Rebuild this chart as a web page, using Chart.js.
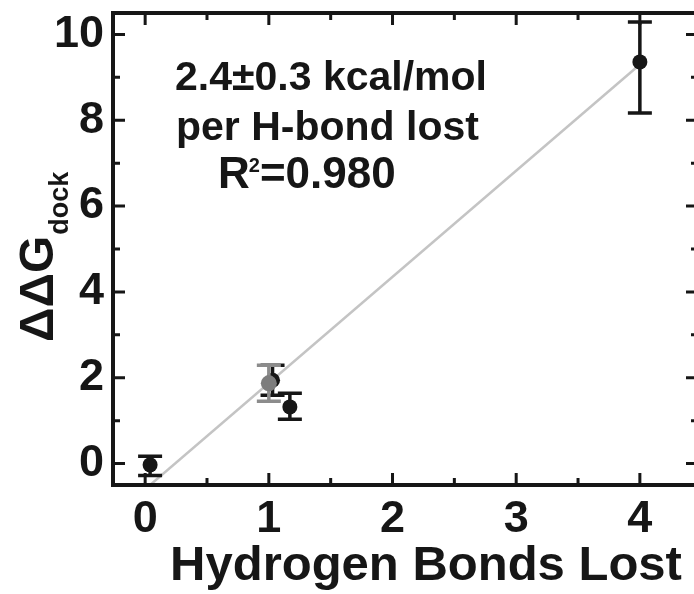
<!DOCTYPE html>
<html>
<head>
<meta charset="utf-8">
<script src="https://cdn.jsdelivr.net/npm/chart.js@4.4.1/dist/chart.umd.min.js"></script>
<style>
  html, body { margin: 0; padding: 0; background: #fff; overflow: hidden; }
  /* a few px wider than the window: the right frame edge sits just off-screen */
  #wrap { width: 698px; height: 594px; }
</style>
</head>
<body>
<div id="wrap"><canvas id="myChart"></canvas></div>
<script>
// black points (H-bonds lost, ddG dock) with asymmetric error bars
let blackX = [0.04, 1.03, 1.17, 4.0];
let blackY = [-0.03, 1.94, 1.32, 9.36];
let blackErrUp = [0.2, 0.35, 0.32, 0.93];
let blackErrDown = [0.25, 0.35, 0.29, 1.19];

// gray point
let grayX = [1.0];
let grayY = [1.87];
let grayErrUp = [0.42];
let grayErrDown = [0.42];

// linear fit line
let fitX = [0.04, 4.0];
let fitY = [-0.5, 9.3];

let xTicks = [0, 1, 2, 3, 4];
let yTicks = [0, 2, 4, 6, 8, 10];
let xMinor = [0.5, 1.5, 2.5, 3.5];
let yMinor = [1, 3, 5, 7, 9];

let noteLines = ["2.4±0.3 kcal/mol", "per H-bond lost"];
let noteR2 = "=0.980";
let xTitle = "Hydrogen Bonds Lost";

const FONT = '"Liberation Sans", Arial, Helvetica, sans-serif';
const ink = '#161616';

let pts = (xs, ys) => xs.map((v, i) => ({ x: v, y: ys[i] }));

let errorBars = {
  id: 'errorBars',
  beforeDatasetDraw(chart, args) {
    let ds = chart.data.datasets[args.index];
    if (!ds.errUp) return;
    let { ctx, scales: { x, y } } = chart;
    ctx.save();
    ctx.strokeStyle = ds.errColor;
    ctx.lineWidth = 3.5;
    ds.data.forEach((p, i) => {
      let px = x.getPixelForValue(p.x);
      let top = y.getPixelForValue(p.y + ds.errUp[i]);
      let bot = y.getPixelForValue(p.y - ds.errDown[i]);
      ctx.beginPath();
      ctx.moveTo(px, top); ctx.lineTo(px, bot);
      ctx.moveTo(px - 12, top); ctx.lineTo(px + 12, top);
      ctx.moveTo(px - 12, bot); ctx.lineTo(px + 12, bot);
      ctx.stroke();
    });
    ctx.restore();
  }
};

// box with inward ticks on all four sides
let frame = {
  id: 'frame',
  afterDraw(chart) {
    let { ctx, chartArea: a, scales: { x, y } } = chart;
    let seg = (x1, y1, x2, y2) => { ctx.moveTo(x1, y1); ctx.lineTo(x2, y2); };
    ctx.save();
    ctx.strokeStyle = ink;
    ctx.lineWidth = 3;
    ctx.beginPath();
    for (const [vals, len] of [[xTicks, 12], [xMinor, 7]]) {
      for (const v of vals) {
        let px = x.getPixelForValue(v);
        seg(px, a.bottom, px, a.bottom - len);
        seg(px, a.top, px, a.top + len);
      }
    }
    for (const [vals, len] of [[yTicks, 12], [yMinor, 7]]) {
      for (const v of vals) {
        let py = y.getPixelForValue(v);
        seg(a.left, py, a.left + len, py);
        seg(a.right, py, a.right - len, py);
      }
    }
    ctx.stroke();
    ctx.lineWidth = 4;
    ctx.strokeRect(a.left, a.top, a.right - a.left, a.bottom - a.top);
    ctx.restore();
  }
};

let texts = {
  id: 'texts',
  afterDraw(chart) {
    let ctx = chart.ctx;
    ctx.save();
    ctx.fillStyle = ink;
    ctx.textAlign = 'left';
    ctx.textBaseline = 'alphabetic';

    // annotation
    ctx.font = 'bold 41px ' + FONT;
    ctx.fillText(noteLines[0], 175, 90);
    ctx.fillText(noteLines[1], 176, 140);
    ctx.font = 'bold 44px ' + FONT;
    ctx.fillText('R', 218, 188);
    let rw = ctx.measureText('R').width;
    ctx.font = 'bold 20px ' + FONT;
    ctx.fillText('2', 218 + rw - 1, 172);
    let sw = ctx.measureText('2').width;
    ctx.font = 'bold 44px ' + FONT;
    ctx.fillText(noteR2, 218 + rw + sw - 1, 188);

    // x title
    ctx.font = 'bold 49px ' + FONT;
    ctx.textAlign = 'center';
    ctx.fillText(xTitle, 426, 580);

    // y title, rotated, with subscript
    ctx.translate(53, 342);
    ctx.rotate(-Math.PI / 2);
    ctx.textAlign = 'left';
    ctx.font = 'bold 48px ' + FONT;
    ctx.fillText('ΔΔG', 0, 0);
    let gw = ctx.measureText('ΔΔG').width;
    ctx.font = 'bold 27px ' + FONT;
    ctx.fillText('dock', gw + 1, 15);
    ctx.restore();
  }
};

// drop label overhang padding so the plot box sits where we want it
let noPad = s => { s.paddingTop = 0; s.paddingBottom = 0; s.paddingLeft = 0; s.paddingRight = 0; };

let ctx = document.querySelector('#myChart').getContext('2d');

let chart = new Chart(ctx, {
  type: 'scatter',
  data: {
    datasets: [
      {
        label: 'gray',
        data: pts(grayX, grayY),
        errUp: grayErrUp,
        errDown: grayErrDown,
        errColor: '#8c8c8c',
        backgroundColor: '#7d7d7d',
        borderWidth: 0,
        pointRadius: 8,
      },
      {
        label: 'black',
        data: pts(blackX, blackY),
        errUp: blackErrUp,
        errDown: blackErrDown,
        errColor: ink,
        backgroundColor: ink,
        borderWidth: 0,
        pointRadius: 7.5,
      },
      {
        label: 'fit',
        type: 'line',
        data: pts(fitX, fitY),
        borderColor: '#c4c4c4',
        borderWidth: 2.5,
        pointRadius: 0,
        fill: false,
      },
    ]
  },
  options: {
    responsive: true,
    maintainAspectRatio: false,
    animation: false,
    layout: { autoPadding: false, padding: { top: 13, right: 0, left: 0, bottom: 0 } },
    plugins: { legend: { display: false }, tooltip: { enabled: false } },
    scales: {
      x: {
        type: 'linear',
        min: -0.26,
        max: 4.47,
        afterBuildTicks: s => { s.ticks = xTicks.map(v => ({ value: v })); },
        afterFit: s => { s.height = 109; noPad(s); },
        grid: { display: false, drawTicks: false },
        border: { display: false },
        ticks: {
          color: ink,
          padding: 8,
          font: { family: FONT, size: 45, weight: 'bold' },
        },
      },
      y: {
        min: -0.5,
        max: 10.5,
        afterBuildTicks: s => { s.ticks = yTicks.map(v => ({ value: v })); },
        afterFit: s => { s.width = 113; noPad(s); },
        grid: { display: false, drawTicks: false },
        border: { display: false },
        ticks: {
          color: ink,
          padding: 9,
          font: { family: FONT, size: 45, weight: 'bold' },
        },
      },
    }
  },
  plugins: [errorBars, frame, texts],
});
</script>
</body>
</html>
